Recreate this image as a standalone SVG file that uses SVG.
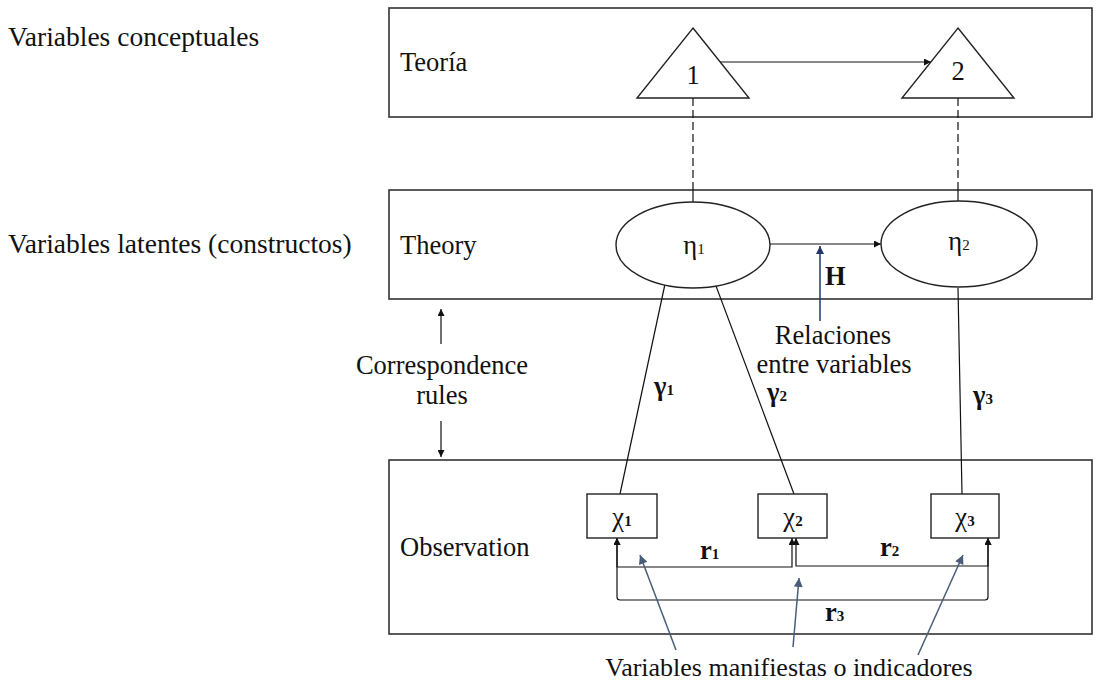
<svg xmlns="http://www.w3.org/2000/svg" width="1096" height="683" viewBox="0 0 1096 683">
  <style>
    text { font-family: "Liberation Serif", "Tinos", "DejaVu Serif", serif; font-size: 26.5px; fill: #111; }
    .mid { text-anchor: middle; }
    .b { font-weight: bold; }
    .big { font-size: 27.5px; }
    .sm { font-size: 26px; }
    .sub { font-size: 15px; font-weight: bold; }
    .subn { font-size: 15px; }
    .panel { fill: none; stroke: #333; stroke-width: 1.6; }
    .shape { fill: #fff; stroke: #222; stroke-width: 1.4; }
    .line { fill: none; stroke: #111; stroke-width: 1.2; }
    .dash { fill: none; stroke: #111; stroke-width: 1.2; stroke-dasharray: 8 4; }
    .navy { fill: none; stroke: #1f3868; stroke-width: 1.5; }
    .slate { fill: none; stroke: #4a5d78; stroke-width: 1.5; }
  </style>
  <defs>
    <marker id="ah" viewBox="0 0 10 10" refX="10" refY="5" markerUnits="userSpaceOnUse" markerWidth="9" markerHeight="7" orient="auto-start-reverse">
      <path d="M0,0 L10,5 L0,10 z" fill="#111"/>
    </marker>
    <marker id="ahNavy" viewBox="0 0 10 10" refX="10" refY="5" markerUnits="userSpaceOnUse" markerWidth="10" markerHeight="8" orient="auto">
      <path d="M0,0 L10,5 L0,10 z" fill="#1f3868"/>
    </marker>
    <marker id="ahSlate" viewBox="0 0 10 10" refX="10" refY="5" markerUnits="userSpaceOnUse" markerWidth="11" markerHeight="9" orient="auto">
      <path d="M0,0 L10,5 L0,10 z" fill="#4a5d78"/>
    </marker>
  </defs>

  <!-- level labels on the left -->
  <g id="level-labels">
    <text class="big" x="8" y="46">Variables conceptuales</text>
    <text class="big" x="8" y="253">Variables latentes (constructos)</text>
  </g>

  <!-- three horizontal panels -->
  <g id="panel-teoria">
    <rect class="panel" x="389" y="8" width="703" height="109"/>
    <text x="400" y="71">Teoría</text>
  </g>
  <g id="panel-theory">
    <rect class="panel" x="389" y="190" width="703" height="109"/>
    <text x="400" y="254">Theory</text>
  </g>
  <g id="panel-observation">
    <rect class="panel" x="389" y="460" width="703" height="174"/>
    <text x="400" y="556">Observation</text>
  </g>

  <!-- connectors -->
  <g id="connectors">
    <!-- concept 1 -> concept 2 -->
    <line class="line" x1="720" y1="62" x2="931" y2="62" marker-end="url(#ah)"/>
    <!-- concept to construct links -->
    <line class="dash" x1="693" y1="98" x2="693" y2="190"/>
    <line class="line" x1="693" y1="190" x2="693" y2="202"/>
    <line class="dash" x1="958" y1="98" x2="958" y2="190"/>
    <line class="line" x1="958" y1="190" x2="958" y2="201"/>
    <!-- eta1 -> eta2 -->
    <line class="line" x1="770" y1="244" x2="881" y2="244" marker-end="url(#ah)"/>
    <!-- H pointer -->
    <line class="navy" x1="820" y1="321" x2="820" y2="246" marker-end="url(#ahNavy)"/>
    <!-- loadings -->
    <line class="line" x1="665" y1="284" x2="620" y2="494"/>
    <line class="line" x1="716" y1="286" x2="794" y2="494"/>
    <line class="line" x1="958" y1="288" x2="962" y2="494"/>
    <!-- correspondence rules -->
    <line class="line" x1="441" y1="344" x2="441" y2="309" marker-end="url(#ah)"/>
    <line class="line" x1="441" y1="421" x2="441" y2="457" marker-end="url(#ah)"/>
    <!-- correlations between indicators -->
    <path class="line" d="M617,538 V567 H792 V538" marker-start="url(#ah)" marker-end="url(#ah)"/>
    <path class="line" d="M796,538 V566 H988 V538" marker-start="url(#ah)" marker-end="url(#ah)"/>
    <path class="line" d="M617,538 V597 Q617,600 620,600 H985 Q988,600 988,597 V538" marker-start="url(#ah)" marker-end="url(#ah)"/>
    <!-- manifest variable pointers -->
    <line class="slate" x1="676" y1="650" x2="640" y2="555" marker-end="url(#ahSlate)"/>
    <line class="slate" x1="793" y1="647" x2="799" y2="578" marker-end="url(#ahSlate)"/>
    <line class="slate" x1="918" y1="655" x2="963" y2="555" marker-end="url(#ahSlate)"/>
  </g>

  <!-- conceptual variables -->
  <g id="concept-1">
    <polygon class="shape" points="693,28 749,98 637,98"/>
    <text class="mid" x="693" y="84">1</text>
  </g>
  <g id="concept-2">
    <polygon class="shape" points="958,28 1014,98 902,98"/>
    <text class="mid" x="958" y="80">2</text>
  </g>

  <!-- latent variables -->
  <g id="eta-1">
    <ellipse class="shape" cx="693" cy="245" rx="77" ry="43"/>
    <text class="mid" x="694" y="254">η<tspan class="subn">1</tspan></text>
  </g>
  <g id="eta-2">
    <ellipse class="shape" cx="959" cy="244" rx="78" ry="43"/>
    <text class="mid" x="959" y="250">η<tspan class="subn">2</tspan></text>
  </g>

  <!-- observed indicators -->
  <g id="chi-1">
    <rect class="shape" x="587" y="494" width="70" height="44"/>
    <text class="mid" x="622" y="526">χ<tspan class="sub">1</tspan></text>
  </g>
  <g id="chi-2">
    <rect class="shape" x="758" y="494" width="69" height="44"/>
    <text class="mid" x="793" y="526">χ<tspan class="sub">2</tspan></text>
  </g>
  <g id="chi-3">
    <rect class="shape" x="931" y="494" width="68" height="44"/>
    <text class="mid" x="965" y="526">χ<tspan class="sub">3</tspan></text>
  </g>

  <!-- labels -->
  <g id="labels">
    <text class="b" x="825" y="285">H</text>
    <text class="mid" x="833" y="344">Relaciones</text>
    <text class="mid" x="834" y="373">entre variables</text>
    <text class="mid" x="442" y="374">Correspondence</text>
    <text class="mid" x="442" y="404">rules</text>
    <text class="b" x="654" y="395">γ<tspan class="sub">1</tspan></text>
    <text class="b" x="767" y="401">γ<tspan class="sub">2</tspan></text>
    <text class="b" x="973" y="404">γ<tspan class="sub">3</tspan></text>
    <text class="b" x="700" y="559">r<tspan class="subn">1</tspan></text>
    <text class="b" x="880" y="556">r<tspan class="subn">2</tspan></text>
    <text class="b" x="825" y="621">r<tspan class="subn">3</tspan></text>
    <text class="mid sm" x="789" y="676">Variables manifiestas o indicadores</text>
  </g>
</svg>
